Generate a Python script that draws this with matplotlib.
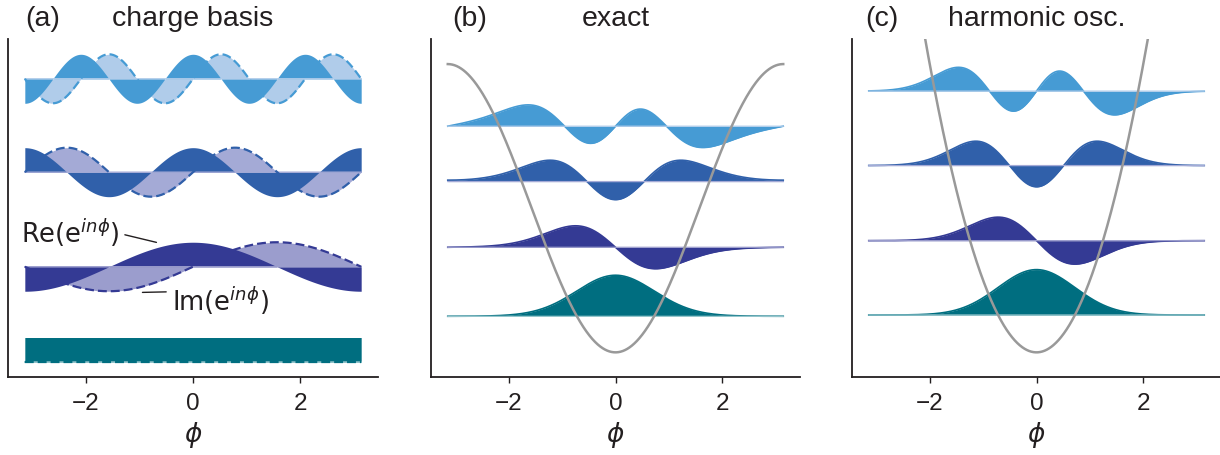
import numpy as np
import matplotlib
matplotlib.use("Agg")
import matplotlib.pyplot as plt
from numpy.polynomial.hermite import hermval

# ---------------- data ----------------
level_index = [0, 1, 2, 3]
main_colors = ['#006E80', '#343A94', '#3060AA', '#469BD4']
light_colors = ['#9CCAD0', '#9B9DCD', '#A4AAD6', '#B0CCEA']

# panel (a): charge basis, offsets and amplitude
charge_offsets = [-1.067, -0.406, 0.25, 0.898]
charge_amp = 0.17

# physical parameters (units of E_J)
EJ = 1.0
EC = 1.0 / 30.0
n_cut = 25

# panel (b): exact transmon levels and wave amplitudes
exact_levels = [-0.75, -0.271, 0.185, 0.569]
exact_amps = [0.285, 0.149, 0.148, 0.148]
exact_sign_ref_phi = [0.0, -0.7, 0.0, -1.6]
exact_sign_target = [1, 1, -1, 1]

# panel (c): harmonic oscillator levels and wave amplitudes
ho_levels = [-0.741, -0.225, 0.296, 0.8125]
ho_amps = [0.315, 0.163, 0.169, 0.165]

titles = ['charge basis', 'exact', 'harmonic osc.']
panel_tags = ['(a)', '(b)', '(c)']
xticks = [-2, 0, 2]

# ---------------- figure ----------------
W, H = 1220, 456
fig = plt.figure(figsize=(W / 100, H / 100), dpi=100)

def rect(l, r, t, b):
    return [l / W, 1 - b / H, (r - l) / W, (b - t) / H]

ax_px = [(8, 378), (431, 800), (852, 1221)]
top_px, bot_px = 40, 378
axes = [fig.add_axes(rect(l, r, top_px, bot_px)) for l, r in ax_px]

phi = np.linspace(-np.pi, np.pi, 1201)
ylim = (-1.171, 1.174)
tick_font = dict(family=['Liberation Sans', 'DejaVu Sans'], size=17.5)

for ax in axes:
    ax.set_xlim(-np.pi * 1.1, np.pi * 1.1)
    ax.set_ylim(*ylim)
    for s in ['top', 'right']:
        ax.spines[s].set_visible(False)
    for s in ['left', 'bottom']:
        ax.spines[s].set_linewidth(1.3)
        ax.spines[s].set_color('#231f20')
    ax.set_yticks([])
    ax.set_xticks(xticks)
    ax.set_xticklabels(['\u22122', '0', '2'], fontdict=tick_font)
    ax.tick_params(axis='x', length=4.5, width=1.0, color='#231f20', pad=6,
                   labelcolor='#231f20')
    ax.set_xlabel(r'$\phi$', fontsize=19, labelpad=4, color='#231f20')

# ---- panel (a) ----
ax = axes[0]
for n in level_index:
    base = charge_offsets[n]
    re = base + charge_amp * np.cos(n * phi)
    im = base + charge_amp * np.sin(n * phi)
    ax.fill_between(phi, base, im, color=light_colors[n], lw=0, zorder=2)
    ax.fill_between(phi, base, re, color=main_colors[n], lw=0, zorder=3)
    ax.plot(phi, np.full_like(phi, base), color=light_colors[n], lw=1.0, zorder=4)
    ax.plot(phi, im, color=main_colors[n], lw=1.6, dashes=(4, 1.8), zorder=5)

ax.annotate('Re(e$^{in\\phi}$)', xy=(-0.683, -0.237), xytext=(-3.22, -0.235),
            fontsize=18.5, va='baseline', ha='left', color='#231f20',
            arrowprops=dict(arrowstyle='-', color='#231f20', lw=1.0,
                            shrinkA=2, shrinkB=0, relpos=(1.0, 0.45)))
ax.annotate('Im(e$^{in\\phi}$)', xy=(-0.944, -0.584), xytext=(-0.397, -0.707),
            fontsize=18.5, va='baseline', ha='left', color='#231f20',
            arrowprops=dict(arrowstyle='-', color='#231f20', lw=1.0,
                            shrinkA=2, shrinkB=0, relpos=(0.0, 0.75)))

# ---- panel (b): exact transmon eigenfunctions ----
ax = axes[1]
ns = np.arange(-n_cut, n_cut + 1)
Hm = np.diag(4 * EC * ns ** 2) - 0.5 * EJ * (np.eye(len(ns), k=1) + np.eye(len(ns), k=-1))
evals, evecs = np.linalg.eigh(Hm)
basis = np.exp(1j * np.outer(phi, ns))
for k in level_index:
    psi = basis @ evecs[:, k]
    psi = psi.real if np.abs(psi.real).max() > np.abs(psi.imag).max() else psi.imag
    ref = psi[np.argmin(np.abs(phi - exact_sign_ref_phi[k]))]
    if np.sign(ref) != exact_sign_target[k]:
        psi = -psi
    psi = psi / np.abs(psi).max()
    base = exact_levels[k]
    y = base + exact_amps[k] * psi
    ax.fill_between(phi, base, y, color=main_colors[k], lw=0, zorder=2)
    ax.plot(phi, y, color=main_colors[k], lw=1.2, zorder=3)
    ax.plot(phi, np.full_like(phi, base), color=light_colors[k], lw=0.9, zorder=4)
ax.plot(phi, -EJ * np.cos(phi), color='#999999', lw=1.8, zorder=6)

# ---- panel (c): harmonic oscillator ----
ax = axes[2]
sigma = (8 * EC / EJ) ** 0.25
for k in level_index:
    coeff = np.zeros(k + 1)
    coeff[k] = 1
    psi = hermval(-phi / sigma, coeff) * np.exp(-phi ** 2 / (2 * sigma ** 2))
    psi = psi / np.abs(psi).max()
    base = ho_levels[k]
    y = base + ho_amps[k] * psi
    ax.fill_between(phi, base, y, color=main_colors[k], lw=0, zorder=2)
    ax.plot(phi, y, color=main_colors[k], lw=1.2, zorder=3)
    ax.plot(phi, np.full_like(phi, base), color=light_colors[k], lw=0.9, zorder=4)
ax.plot(phi, -EJ + 0.5 * EJ * phi ** 2, color='#999999', lw=1.8, zorder=6)

# ---- titles ----
title_font = dict(family=['Liberation Sans', 'DejaVu Sans'], size=20.5, color='#231f20')
tag_left_px = [25, 452.7, 865]
for i, (l, r) in enumerate(ax_px):
    fig.text(tag_left_px[i] / W, 1 - 26 / H, panel_tags[i], ha='left', va='baseline', **title_font)
    fig.text((l + r) / 2 / W, 1 - 26 / H, titles[i], ha='center', va='baseline', **title_font)

fig.savefig('out.png', dpi=100)
